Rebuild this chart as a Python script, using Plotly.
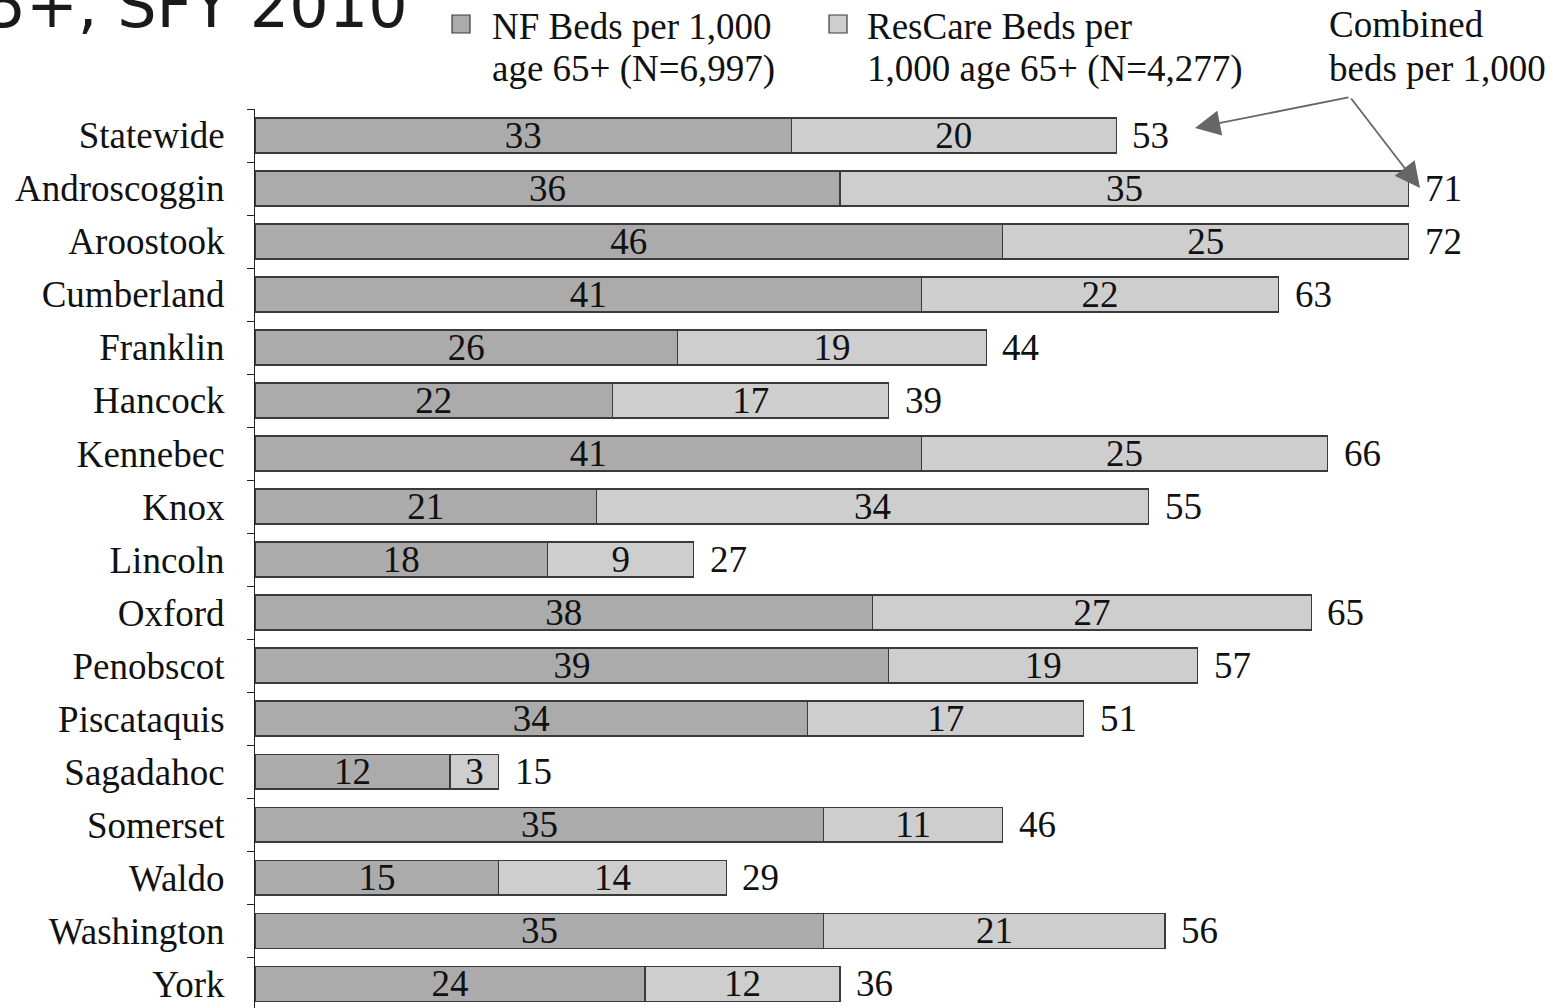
import plotly.graph_objects as go

# County rows, top to bottom
counties = ["Statewide", "Androscoggin", "Aroostook", "Cumberland", "Franklin",
            "Hancock", "Kennebec", "Knox", "Lincoln", "Oxford", "Penobscot",
            "Piscataquis", "Sagadahoc", "Somerset", "Waldo", "Washington", "York"]

# Nursing facility beds per 1,000 age 65+
nf_beds = [33, 36, 46, 41, 26, 22, 41, 21, 18, 38, 39, 34, 12, 35, 15, 35, 24]
# Residential care beds per 1,000 age 65+
rescare_beds = [20, 35, 25, 22, 19, 17, 25, 34, 9, 27, 19, 17, 3, 11, 14, 21, 12]
# Combined beds per 1,000 (as published, rounded)
combined = [53, 71, 72, 63, 44, 39, 66, 55, 27, 65, 57, 51, 15, 46, 29, 56, 36]

nf_name = "NF Beds per 1,000 age 65+ (N=6,997)"
rc_name = "ResCare Beds per 1,000 age 65+ (N=4,277)"

SERIF = "Liberation Serif"
FS = 37
W, H = 1556, 1008
ML, MT, MR, MB = 255, 109, 1, 0
PW, PH = W - ML - MR, H - MT - MB


def px_x(p):
    """Pixel column -> paper x."""
    return (p - ML) / PW


def px_y(p):
    """Pixel row -> paper y."""
    return (H - MB - p) / PH


fig = go.Figure()

fig.add_trace(go.Bar(
    y=counties, x=nf_beds, orientation="h", name=nf_name,
    marker=dict(color="#ababab", line=dict(color="#3a3a3a", width=1.2)),
    texttemplate="%{x}", textposition="inside", insidetextanchor="middle",
    textangle=0, constraintext="none",
    insidetextfont=dict(family=SERIF, size=FS, color="#111111"),
    showlegend=False,
))
fig.add_trace(go.Bar(
    y=counties, x=rescare_beds, orientation="h", name=rc_name,
    marker=dict(color="#cecece", line=dict(color="#3a3a3a", width=1.2)),
    texttemplate="%{x}", textposition="inside", insidetextanchor="middle",
    textangle=0, constraintext="none",
    insidetextfont=dict(family=SERIF, size=FS, color="#111111"),
    showlegend=False,
))

annotations = []

# Combined totals to the right of each bar
for county, n, r, tot in zip(counties, nf_beds, rescare_beds, combined):
    annotations.append(dict(
        x=n + r, y=county, xref="x", yref="y", text=str(tot),
        xanchor="left", yanchor="middle", xshift=14, showarrow=False,
        font=dict(family=SERIF, size=FS, color="#111111"),
    ))

# Title fragment along the top edge
annotations.append(dict(
    x=px_x(410), y=px_y(6), xref="paper", yref="paper",
    text="65+, SFY 2010", xanchor="right", yanchor="middle", showarrow=False,
    font=dict(family="DejaVu Sans", size=62, color="#1a1a1a"),
))

# Legend entries (square swatch + two text lines)
legend_items = [
    (452, 490, ["NF Beds per 1,000", "age 65+ (N=6,997)"], "#ababab"),
    (829, 865, ["ResCare Beds per", "1,000 age 65+ (N=4,277)"], "#cecece"),
]
shapes = []
for sq_x, tx, lines, col in legend_items:
    shapes.append(dict(
        type="rect", xref="paper", yref="paper",
        x0=px_x(sq_x), x1=px_x(sq_x + 18), y0=px_y(33), y1=px_y(15),
        fillcolor=col, line=dict(color="#3a3a3a", width=1.2),
    ))
    for line, cy in zip(lines, [26, 69]):
        annotations.append(dict(
            x=px_x(tx), y=px_y(cy), xref="paper", yref="paper", text=line,
            xanchor="left", yanchor="middle", showarrow=False,
            font=dict(family=SERIF, size=FS, color="#111111"),
        ))

# "Combined beds per 1,000" callout
for line, cy in zip(["Combined", "beds per 1,000"], [25, 68]):
    annotations.append(dict(
        x=px_x(1327), y=px_y(cy), xref="paper", yref="paper", text=line,
        xanchor="left", yanchor="middle", showarrow=False,
        font=dict(family=SERIF, size=FS, color="#111111"),
    ))

# Arrows from the callout to the Statewide and Androscoggin totals
tail = (1350, 97)
for tip in [(1195, 128), (1420, 188)]:
    annotations.append(dict(
        x=px_x(tip[0]), y=px_y(tip[1]), xref="paper", yref="paper", text="",
        showarrow=True, arrowhead=2, arrowsize=2.8, arrowwidth=1.8,
        arrowcolor="#666666", standoff=0, startstandoff=0,
        ax=tail[0] - tip[0], ay=tail[1] - tip[1],
    ))

fig.update_layout(
    width=W, height=H,
    margin=dict(l=ML, r=MR, t=MT, b=MB, pad=0),
    paper_bgcolor="white", plot_bgcolor="white",
    barmode="stack", bargap=0.34,
    showlegend=False,
    annotations=annotations, shapes=shapes,
    xaxis=dict(range=[0, 80], visible=False, fixedrange=True),
    yaxis=dict(
        type="category", categoryorder="array", categoryarray=counties,
        range=[16.46, -0.5], showgrid=False, zeroline=False,
        showline=True, linecolor="#222222", linewidth=1,
        ticks="outside", tickson="boundaries", ticklen=7, tickcolor="#222222",
        ticklabelstandoff=22,
        tickfont=dict(family=SERIF, size=FS, color="#111111"),
        fixedrange=True,
    ),
)

fig.write_html("out.html", config={"displayModeBar": False})
